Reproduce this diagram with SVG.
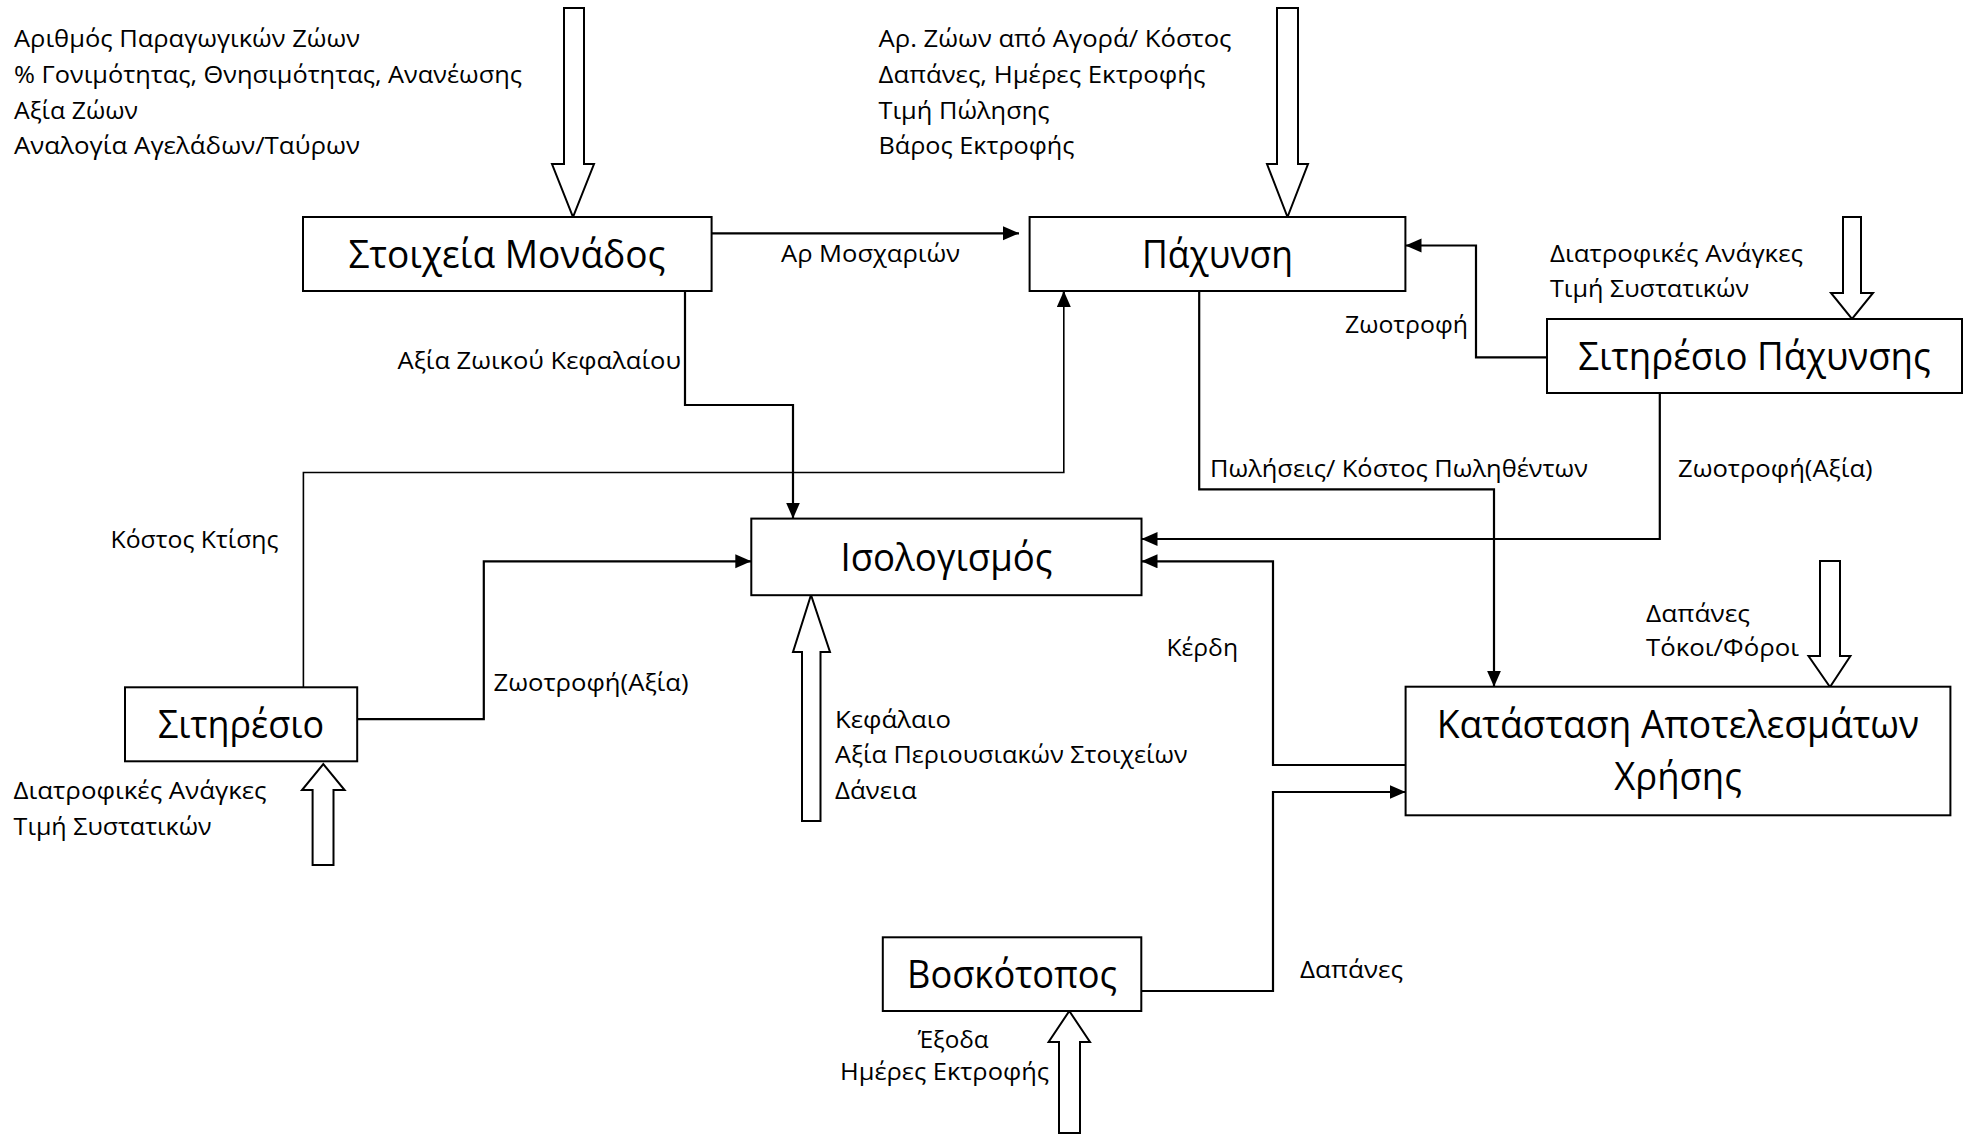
<svg xmlns="http://www.w3.org/2000/svg" width="1970" height="1134" viewBox="0 0 1970 1134">
<style>
  .box{fill:#fff;stroke:#000;stroke-width:2}
  .big{font-family:"Open Sans","Noto Sans","DejaVu Sans",sans-serif;font-size:37.5px;fill:#000;text-anchor:middle}
  .sm{font-family:"Open Sans","Noto Sans","DejaVu Sans",sans-serif;font-size:23px;fill:#000}
  .ln{fill:none;stroke:#000;stroke-width:2.2;marker-end:url(#ah)}
  .ln0{fill:none;stroke:#000;stroke-width:2.2}
  .thin{fill:none;stroke:#000;stroke-width:1.6}
  .blk{fill:#fff;stroke:#000;stroke-width:2;stroke-linejoin:miter}
</style>
<defs>
  <marker id="ah" markerUnits="userSpaceOnUse" markerWidth="17" markerHeight="15" refX="16" refY="7" orient="auto">
    <path d="M0,0 L16,7 L0,14 z" fill="#000"/>
  </marker>
</defs>
<rect width="1970" height="1134" fill="#fff"/>

<g id="connectors">
  <path class="ln" d="M711.6,233.3 H1019"/>
  <path class="ln" d="M685,291 V405 H793 V518.6"/>
  <path class="thin" d="M303.4,687.3 V472.5 H1063.8 V300"/>
  <path class="ln" d="M1063.8,300 V291"/>
  <path class="ln" d="M357.2,719.2 H483.8 V561.3 H751.3"/>
  <path class="ln" d="M1547,357.3 H1476 V245.5 H1405.5"/>
  <path class="ln" d="M1659.8,393 V539 H1141.5"/>
  <path class="ln" d="M1199.2,291 V489.3 H1494 V686.7"/>
  <path class="ln" d="M1405.6,765 H1273 V561.3 H1141.5"/>
  <path class="ln" d="M1141.3,991 H1273 V792 H1405.6"/>
  <text class="sm" x="781" y="262" textLength="179" lengthAdjust="spacingAndGlyphs">Αρ Μοσχαριών</text>
  <text class="sm" x="397.5" y="369" textLength="283.5" lengthAdjust="spacingAndGlyphs">Αξία Ζωικού Κεφαλαίου</text>
  <text class="sm" x="110.5" y="548" textLength="168" lengthAdjust="spacingAndGlyphs">Κόστος Κτίσης</text>
  <text class="sm" x="493.5" y="691" textLength="195" lengthAdjust="spacingAndGlyphs">Ζωοτροφή(Αξία)</text>
  <text class="sm" x="1345" y="333" textLength="123" lengthAdjust="spacingAndGlyphs">Ζωοτροφή</text>
  <text class="sm" x="1210" y="476.5" textLength="378" lengthAdjust="spacingAndGlyphs">Πωλήσεις/ Κόστος Πωληθέντων</text>
  <text class="sm" x="1678" y="477" textLength="194.6" lengthAdjust="spacingAndGlyphs">Ζωοτροφή(Αξία)</text>
  <text class="sm" x="1166.5" y="656" textLength="71.5" lengthAdjust="spacingAndGlyphs">Κέρδη</text>
  <text class="sm" x="1300" y="978" textLength="103" lengthAdjust="spacingAndGlyphs">Δαπάνες</text>
</g>

<g id="inputs">
  <path class="blk" d="M564,8 H584 V164 H594 L573,217 L552,164 H564 Z"/>
  <path class="blk" d="M1277,8 H1298 V164 H1308 L1287.5,217 L1267,164 H1277 Z"/>
  <path class="blk" d="M1843,217 H1861 V293 H1873 L1852,319 L1831,293 H1843 Z"/>
  <path class="blk" d="M312.6,865 H333.5 V790 H344.6 L323.3,764 L302,790 H312.6 Z"/>
  <path class="blk" d="M802,821 H820.5 V652 H830 L811,595 L793,652 H802 Z"/>
  <path class="blk" d="M1820,561 H1840 V656 H1850.4 L1830,687 L1808.5,656 H1820 Z"/>
  <path class="blk" d="M1059,1133 H1080 V1042 H1090 L1069.3,1011 L1048.6,1042 H1059 Z"/>

  <text class="sm" x="14" y="47" textLength="346" lengthAdjust="spacingAndGlyphs">Αριθμός Παραγωγικών Ζώων</text>
  <text class="sm" x="14" y="83" textLength="508" lengthAdjust="spacingAndGlyphs">% Γονιμότητας, Θνησιμότητας, Ανανέωσης</text>
  <text class="sm" x="14" y="118.5" textLength="124" lengthAdjust="spacingAndGlyphs">Αξία Ζώων</text>
  <text class="sm" x="14" y="154" textLength="346" lengthAdjust="spacingAndGlyphs">Αναλογία Αγελάδων/Ταύρων</text>

  <text class="sm" x="878.5" y="47" textLength="353" lengthAdjust="spacingAndGlyphs">Αρ. Ζώων από Αγορά/ Κόστος</text>
  <text class="sm" x="878.5" y="83" textLength="327" lengthAdjust="spacingAndGlyphs">Δαπάνες, Ημέρες Εκτροφής</text>
  <text class="sm" x="878.5" y="118.5" textLength="171" lengthAdjust="spacingAndGlyphs">Τιμή Πώλησης</text>
  <text class="sm" x="878.5" y="154" textLength="196" lengthAdjust="spacingAndGlyphs">Βάρος Εκτροφής</text>

  <text class="sm" x="1550" y="262" textLength="253" lengthAdjust="spacingAndGlyphs">Διατροφικές Ανάγκες</text>
  <text class="sm" x="1550" y="297" textLength="199" lengthAdjust="spacingAndGlyphs">Τιμή Συστατικών</text>

  <text class="sm" x="13.6" y="799" textLength="253" lengthAdjust="spacingAndGlyphs">Διατροφικές Ανάγκες</text>
  <text class="sm" x="13.6" y="835" textLength="198" lengthAdjust="spacingAndGlyphs">Τιμή Συστατικών</text>

  <text class="sm" x="835" y="727.5" textLength="116" lengthAdjust="spacingAndGlyphs">Κεφάλαιο</text>
  <text class="sm" x="835" y="763" textLength="352.7" lengthAdjust="spacingAndGlyphs">Αξία Περιουσιακών Στοιχείων</text>
  <text class="sm" x="835" y="799" textLength="81.7" lengthAdjust="spacingAndGlyphs">Δάνεια</text>

  <text class="sm" x="1646" y="622" textLength="104" lengthAdjust="spacingAndGlyphs">Δαπάνες</text>
  <text class="sm" x="1646" y="656" textLength="153" lengthAdjust="spacingAndGlyphs">Τόκοι/Φόροι</text>

  <text class="sm" x="917.7" y="1048" textLength="71" lengthAdjust="spacingAndGlyphs">Έξοδα</text>
  <text class="sm" x="840" y="1080" textLength="209" lengthAdjust="spacingAndGlyphs">Ημέρες Εκτροφής</text>
</g>

<g id="node-stoixeia">
  <rect class="box" x="303" y="217" width="408.6" height="74"/>
  <text class="big" x="507" y="267.5" textLength="317" lengthAdjust="spacingAndGlyphs">Στοιχεία Μονάδος</text>
</g>
<g id="node-paxynsi">
  <rect class="box" x="1029.6" y="217" width="375.8" height="74"/>
  <text class="big" x="1217.5" y="267.5" textLength="151" lengthAdjust="spacingAndGlyphs">Πάχυνση</text>
</g>
<g id="node-sitiresio-paxynsis">
  <rect class="box" x="1547" y="319" width="415" height="74"/>
  <text class="big" x="1754.5" y="370" textLength="352.5" lengthAdjust="spacingAndGlyphs">Σιτηρέσιο Πάχυνσης</text>
</g>
<g id="node-isologismos">
  <rect class="box" x="751.3" y="518.6" width="390.2" height="76.6"/>
  <text class="big" x="946.5" y="571" textLength="212" lengthAdjust="spacingAndGlyphs">Ισολογισμός</text>
</g>
<g id="node-sitiresio">
  <rect class="box" x="125" y="687.3" width="232.2" height="74"/>
  <text class="big" x="241" y="738" textLength="166" lengthAdjust="spacingAndGlyphs">Σιτηρέσιο</text>
</g>
<g id="node-katastasi">
  <rect class="box" x="1405.6" y="686.7" width="544.8" height="128.6"/>
  <text class="big" x="1678" y="738" textLength="482.5" lengthAdjust="spacingAndGlyphs">Κατάσταση Αποτελεσμάτων</text>
  <text class="big" x="1678" y="790" textLength="127.5" lengthAdjust="spacingAndGlyphs">Χρήσης</text>
</g>
<g id="node-voskotopos">
  <rect class="box" x="882.8" y="937.3" width="258.5" height="73.7"/>
  <text class="big" x="1012" y="988" textLength="210" lengthAdjust="spacingAndGlyphs">Βοσκότοπος</text>
</g>
</svg>
